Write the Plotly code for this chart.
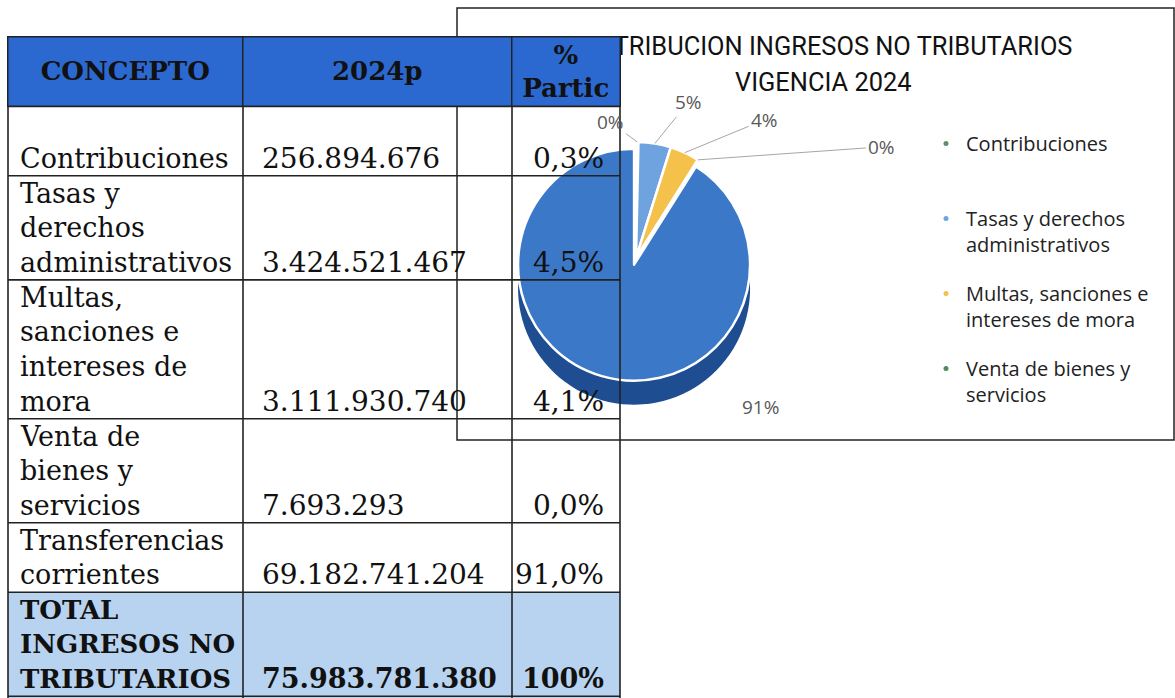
import math
import plotly.graph_objects as go

# ---------------- data ----------------
conceptos = ["Contribuciones", "Tasas y derechos administrativos",
             "Multas, sanciones e intereses de mora", "Venta de bienes y servicios",
             "Transferencias corrientes"]
table_labels = ["Contribuciones", "Tasas y<br>derechos<br>administrativos",
                "Multas,<br>sanciones e<br>intereses de<br>mora", "Venta de<br>bienes y<br>servicios",
                "Transferencias<br>corrientes"]
valores = [256894676, 3424521467, 3111930740, 7693293, 69182741204]
partic = [0.3, 4.5, 4.1, 0.0, 91.0]
total_label = "TOTAL<br>INGRESOS NO<br>TRIBUTARIOS"
total_valor = 75983781380
total_partic = "100%"
header = ["CONCEPTO", "2024p", "%<br>Partic"]
legend_labels = ["Contribuciones<br>&nbsp;", "Tasas y derechos<br>administrativos",
                 "Multas, sanciones e<br>intereses de mora", "Venta de bienes y<br>servicios"]
slice_colors = ["#5d8f6a", "#6ea3e0", "#f4c14a", "#4f8a5f", "#3b78c7"]
side_colors = ["#3f6a4c", "#3f6fae", "#c6962f", "#356846", "#1f4d92"]
chart_title = ["DISTRIBUCION INGRESOS NO TRIBUTARIOS", "VIGENCIA 2024"]
# label offsets (px) from slice edge to its percentage label
label_offsets = [(-27, -20), (34, -42), (80, -33), (184, -13)]

# ---------------- layout helpers ----------------
W, H = 1175, 698
def px(x):
    return x / W
def py(y):
    return 1 - y / H

SERIF = "DejaVu Serif"
LH = 34.7
col_edges = [8, 243, 512, 620]
table_top = 37
header_lines = 2
row_lines = [2, 3, 4, 3, 2, 3]

def fmt_num(v):
    return f"{v:,}".replace(",", ".")
def fmt_pct(p):
    return f"{p:.1f}%".replace(".", ",")

fig = go.Figure()

# pie geometry
PULL = 0.06
R = 116
cx, cy, depth = 636, 258, 24
box = 2 * R * (1 + PULL)
pulls = [0, 0, 0, 0, PULL]

def pie_domain(cxx, cyy):
    return dict(x=[px(cxx - box / 2), px(cxx + box / 2)], y=[py(cyy + box / 2), py(cyy - box / 2)])

# side (depth) of the pie
fig.add_trace(go.Pie(
    labels=conceptos, values=valores, sort=False, direction="clockwise", rotation=0,
    marker=dict(colors=side_colors, line=dict(color="white", width=0)),
    pull=pulls, textinfo="none", domain=pie_domain(cx, cy + depth),
    showlegend=False, hoverinfo="skip",
))
# top face
fig.add_trace(go.Pie(
    labels=conceptos, values=valores, sort=False, direction="clockwise", rotation=0,
    marker=dict(colors=slice_colors, line=dict(color="white", width=2.5)),
    pull=pulls, textinfo="none", domain=pie_domain(cx, cy),
    showlegend=False, hoverinfo="label+value+percent",
))

# legend entries
for i, name in enumerate(legend_labels):
    fig.add_trace(go.Scatter(x=[None], y=[None], mode="markers", name=name,
                             legendgroup=str(i),
                             marker=dict(size=5, color=slice_colors[i])))

shapes = []
annotations = []

# percentage labels of slices
total = sum(valores)
cum = 0
for i, v in enumerate(valores):
    mid = (cum + v / 2) / total * 2 * math.pi
    cum += v
    pct = f"{round(v / total * 100)}%"
    if i < len(label_offsets):
        ex = cx + R * math.sin(mid)
        ey = cy - R * math.cos(mid)
        ax, ay = label_offsets[i]
        annotations.append(dict(x=px(ex), y=py(ey), xref="paper", yref="paper", text=pct,
                                showarrow=True, arrowhead=0, arrowwidth=1, arrowcolor="#a6a6a6",
                                ax=ax, ay=ay, standoff=0, startstandoff=1,
                                font=dict(family="Open Sans", size=19, color="#595959")))
    else:
        annotations.append(dict(x=px(760), y=py(407), xref="paper", yref="paper", text=pct,
                                showarrow=False,
                                font=dict(family="Open Sans", size=19, color="#595959")))

# chart title (drawn first so the table header covers its start)
for k, t in enumerate(chart_title):
    annotations.append(dict(x=px(823), y=py(46 + 36 * k), xref="paper", yref="paper", text=t,
                            showarrow=False, xanchor="center", yanchor="middle",
                            font=dict(family="Roboto", size=25.4, color="#111")))

# chart box
shapes.append(dict(type="rect", xref="paper", yref="paper", x0=px(457), x1=px(1174), y0=py(8), y1=py(440),
                   line=dict(color="#222", width=1.5), fillcolor="rgba(0,0,0,0)", layer="above"))

# table rows
header_bottom = table_top + header_lines * LH
row_tops = []
y = header_bottom
for n in row_lines:
    row_tops.append(y)
    y += n * LH
table_bottom = y

# total row fill
shapes.append(dict(type="rect", xref="paper", yref="paper", x0=px(col_edges[0]), x1=px(col_edges[-1]),
                   y0=py(row_tops[-1]), y1=py(table_bottom + 20), fillcolor="#b8d3f0",
                   line=dict(width=0), layer="below"))

# grid lines
for yy in row_tops + [table_bottom]:
    shapes.append(dict(type="line", xref="paper", yref="paper", x0=px(col_edges[0]), x1=px(col_edges[-1]),
                       y0=py(yy), y1=py(yy), line=dict(color="#222", width=1.6), layer="above"))
for xx in col_edges:
    shapes.append(dict(type="line", xref="paper", yref="paper", x0=px(xx), x1=px(xx),
                       y0=py(table_top), y1=py(table_bottom + 20), line=dict(color="#222", width=1.6), layer="above"))

def cell_lines(text, xpos, anchor, row_idx, bold=False, size=28):
    lines = text.split("<br>")
    n = len(lines)
    bottom = row_tops[row_idx] + row_lines[row_idx] * LH
    for j, t in enumerate(lines):
        yc = bottom - (n - 1 - j + 0.5) * LH
        annotations.append(dict(x=px(xpos), y=py(yc), xref="paper", yref="paper",
                                text=f"<b>{t}</b>" if bold else t, showarrow=False,
                                xanchor=anchor, yanchor="middle",
                                font=dict(family=SERIF, size=size, color="#111")))

for i in range(len(conceptos)):
    cell_lines(table_labels[i], col_edges[0] + 10, "left", i, size=27)
    cell_lines(fmt_num(valores[i]), col_edges[1] + 17, "left", i)
    cell_lines(fmt_pct(partic[i]), col_edges[3] - 14, "right", i)
ti = len(conceptos)
cell_lines(total_label, col_edges[0] + 10, "left", ti, bold=True, size=26)
cell_lines(fmt_num(total_valor), col_edges[1] + 17, "left", ti, bold=True, size=27)
cell_lines(total_partic, col_edges[3] - 14, "right", ti, bold=True, size=27)

# header cells (opaque, over the chart title)
for k, htxt in enumerate(header):
    x0, x1 = col_edges[k], col_edges[k + 1]
    annotations.append(dict(x=px((x0 + x1) / 2), y=py((table_top + header_bottom) / 2),
                            xref="paper", yref="paper", text=f"<b>{htxt}</b>", showarrow=False,
                            xanchor="center", yanchor="middle", width=x1 - x0 - 1.5,
                            height=header_bottom - table_top - 1.5, bgcolor="#2b69d0",
                            bordercolor="#222", borderwidth=1.5, borderpad=0, align="center",
                            valign="middle",
                            font=dict(family=SERIF, size=26, color="#111")))

fig.update_layout(
    width=W, height=H, margin=dict(l=0, r=0, t=0, b=0),
    paper_bgcolor="white", plot_bgcolor="rgba(0,0,0,0)",
    xaxis=dict(visible=False), yaxis=dict(visible=False),
    shapes=shapes, annotations=annotations,
    legend=dict(x=px(926), y=py(124), xanchor="left", yanchor="top", valign="top",
                font=dict(family="Open Sans", size=20, color="#222"),
                tracegroupgap=20, traceorder="grouped", bgcolor="rgba(0,0,0,0)"),
)

fig.write_html("out.html", config={"displayModeBar": False},
               post_script="document.body.style.margin='0';")
